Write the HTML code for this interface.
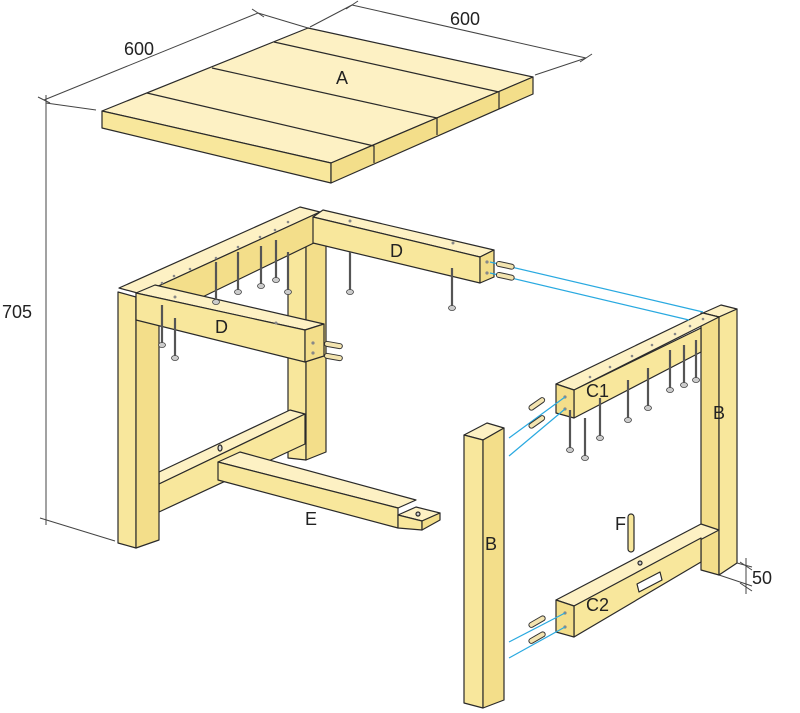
<!DOCTYPE html>
<html><head><meta charset="utf-8"><style>
html,body{margin:0;padding:0;background:#fff}
svg{display:block}
text{font-family:"Liberation Sans",sans-serif;fill:#222}
</style></head><body>
<svg width="800" height="713" viewBox="0 0 800 713" xmlns="http://www.w3.org/2000/svg">
<defs>
<g id="scr"><line x1="0" y1="0" x2="0" y2="38" stroke="#555" stroke-width="2.2"/><ellipse cx="0" cy="40" rx="3.5" ry="2.5" fill="#ccc" stroke="#444" stroke-width="0.8"/></g>
</defs>
<g stroke="#2a2a2a" stroke-width="1.2" stroke-linejoin="round">
<g stroke="#444" stroke-width="1" fill="none">
<line x1="44" y1="100" x2="258" y2="13"/><line x1="38" y1="97" x2="50" y2="103"/><line x1="252" y1="9" x2="264" y2="17"/>
<line x1="46" y1="103" x2="96" y2="110"/><line x1="258" y1="13" x2="308" y2="28"/>
<line x1="352" y1="5" x2="586" y2="58"/><line x1="346" y1="9" x2="358" y2="1"/><line x1="580" y1="62" x2="592" y2="54"/>
<line x1="310" y1="27" x2="352" y2="5"/><line x1="535" y1="75" x2="586" y2="58"/>
<line x1="46" y1="95" x2="46" y2="525"/><line x1="40" y1="518" x2="115" y2="541"/>
<line x1="737" y1="563" x2="752" y2="567"/><line x1="719" y1="575" x2="752" y2="586"/>
<line x1="746" y1="558" x2="746" y2="594"/><line x1="740" y1="562" x2="752" y2="570"/><line x1="740" y1="583" x2="752" y2="591"/>
</g>
<polygon points="102,111 308,28 533,77 331,163" fill="#fdf1c4"/>
<polygon points="102,111 331,163 331,183 102,128" fill="#f8e79c"/>
<polygon points="331,163 533,77 533,94 331,183" fill="#f3de8a"/>
<g fill="none"><polyline points="147,93 374,146 374,163"/><polyline points="212,68 437,118 437,135"/><polyline points="274,42 499,92 499,109"/></g>

<polygon points="288,215 306,220 306,460 288,458" fill="#f8e79c"/>
<polygon points="306,220 326,212 326,452 306,460" fill="#f3de8a"/>
<polygon points="159,472 290,410 305,414 159,484" fill="#fdf1c4"/>
<polygon points="159,484 305,414 305,444 159,512" fill="#f8e79c"/>
<ellipse cx="220" cy="448" rx="2" ry="3" fill="#ddd"/>
<!-- E -->
<polygon points="218,462 240,452 416,500 398,508" fill="#fdf1c4"/>
<polygon points="218,462 398,508 398,528 218,480" fill="#f8e79c"/>
<polygon points="398,515 416,507 440,513 422,521" fill="#fdf1c4"/>
<polygon points="398,515 422,521 422,530 398,528" fill="#f8e79c"/>
<polygon points="422,521 440,513 440,520 422,530" fill="#f3de8a"/>
<circle cx="418" cy="514" r="2" fill="#ccc"/>
<polygon points="119,288 300,207 320,212 141,294" fill="#fdf1c4"/>
<polygon points="141,294 320,212 320,240 155,320" fill="#f3de8a"/>
<polygon points="313,217 323,210 494,250 480,257" fill="#fdf1c4"/>
<polygon points="313,217 480,257 480,283 313,243" fill="#f8e79c"/>
<polygon points="480,257 494,250 494,277 480,283" fill="#f3de8a"/>
<polygon points="118,292 136,297 136,548 118,543" fill="#f8e79c"/>
<polygon points="136,297 159,287 159,540 136,548" fill="#f3de8a"/>
<polygon points="136,293 155,285 324,324 305,330" fill="#fdf1c4"/>
<polygon points="136,293 305,330 305,362 136,320" fill="#f8e79c"/>
<polygon points="305,330 324,324 324,356 305,362" fill="#f3de8a"/>

<polygon points="703,313 721,305 737,309 719,317" fill="#fdf1c4"/>
<polygon points="701,313 719,317 719,575 701,570" fill="#f3de8a"/>
<polygon points="719,317 737,309 737,563 719,575" fill="#f8e79c"/>
<polygon points="556,384 703,313 719,317 574,390" fill="#fdf1c4"/>
<polygon points="574,390 701,328 701,352 574,418" fill="#f8e79c"/>
<polygon points="556,384 574,390 574,418 556,413" fill="#f3de8a"/>
<polygon points="556,600 701,524 719,530 574,606" fill="#fdf1c4"/>
<polygon points="574,606 701,538 701,562 574,637" fill="#f8e79c"/>
<polygon points="556,600 574,606 574,637 556,632" fill="#f3de8a"/>
<polygon points="637,584 660,572 662,580 639,592" fill="#fff"/>
<circle cx="640" cy="563" r="2" fill="#ccc"/>
<rect x="628" y="514" width="6" height="38" rx="3" fill="#f8e79c"/>
<polygon points="464,435 487,423 504,428 483,440" fill="#fdf1c4"/>
<polygon points="464,435 483,440 483,708 464,703" fill="#f8e79c"/>
<polygon points="483,440 504,428 504,700 483,708" fill="#f3de8a"/>
</g>
<g fill="#888">
<circle cx="487" cy="262" r="1.6"/><circle cx="487" cy="273" r="1.6"/>
<circle cx="313" cy="343" r="1.6"/><circle cx="313" cy="353" r="1.6"/>
<circle cx="565" cy="397" r="1.6"/><circle cx="565" cy="409" r="1.6"/>
<circle cx="565" cy="613" r="1.6"/><circle cx="565" cy="627" r="1.6"/>
<circle cx="175" cy="297" r="1.5"/><circle cx="276" cy="323" r="1.5"/><circle cx="350" cy="221" r="1.5"/><circle cx="453" cy="243" r="1.5"/>
<circle cx="162" cy="283" r="1.3"/><circle cx="174" cy="276" r="1.3"/><circle cx="190" cy="269" r="1.3"/><circle cx="216" cy="258" r="1.3"/><circle cx="238" cy="247" r="1.3"/><circle cx="260" cy="237" r="1.3"/><circle cx="275" cy="230" r="1.3"/><circle cx="288" cy="222" r="1.3"/>
<circle cx="590" cy="377" r="1.3"/><circle cx="610" cy="367" r="1.3"/><circle cx="632" cy="356" r="1.3"/><circle cx="652" cy="345" r="1.3"/><circle cx="675" cy="334" r="1.3"/><circle cx="690" cy="326" r="1.3"/><circle cx="703" cy="319" r="1.3"/>
</g>
<g stroke="#29a9e0" stroke-width="1.2">
<line x1="490" y1="262" x2="703" y2="312"/><line x1="490" y1="273" x2="689" y2="320"/>
<line x1="509" y1="438" x2="565" y2="397"/><line x1="509" y1="456" x2="565" y2="409"/>
<line x1="509" y1="642" x2="565" y2="613"/><line x1="509" y1="658" x2="565" y2="627"/>
</g>
<g stroke="#333" stroke-width="1" fill="#f3e4b0">
<rect x="497" y="261" width="18" height="5" rx="2.5" transform="rotate(12 497 261)"/>
<rect x="497" y="272" width="18" height="5" rx="2.5" transform="rotate(12 497 272)"/>
<rect x="325" y="341" width="18" height="5" rx="2.5" transform="rotate(10 325 341)"/>
<rect x="325" y="353" width="18" height="5" rx="2.5" transform="rotate(10 325 353)"/>
<rect x="528" y="407" width="18" height="5" rx="2.5" transform="rotate(-35 528 407)"/>
<rect x="528" y="425" width="18" height="5" rx="2.5" transform="rotate(-35 528 425)"/>
<rect x="528" y="624" width="18" height="5" rx="2.5" transform="rotate(-30 528 624)"/>
<rect x="528" y="640" width="18" height="5" rx="2.5" transform="rotate(-30 528 640)"/>
</g>
<use href="#scr" x="350" y="252"/><use href="#scr" x="452" y="268"/>
<use href="#scr" x="216" y="262"/><use href="#scr" x="238" y="252"/><use href="#scr" x="261" y="246"/><use href="#scr" x="276" y="240"/><use href="#scr" x="288" y="252"/>
<use href="#scr" x="162" y="305"/><use href="#scr" x="175" y="318"/>
<use href="#scr" x="570" y="410"/><use href="#scr" x="585" y="418"/><use href="#scr" x="600" y="398"/><use href="#scr" x="628" y="380"/><use href="#scr" x="648" y="368"/><use href="#scr" x="670" y="350"/><use href="#scr" x="684" y="345"/><use href="#scr" x="696" y="340"/>
<g font-size="18">
<text x="336" y="84">A</text><text x="390" y="257">D</text><text x="215" y="333">D</text>
<text x="586" y="397">C1</text><text x="713" y="419">B</text><text x="305" y="525">E</text>
<text x="485" y="550">B</text><text x="615" y="530">F</text><text x="586" y="611">C2</text>
<text x="124" y="55">600</text><text x="450" y="25">600</text><text x="2" y="318">705</text><text x="752" y="584">50</text>
</g>
</svg>
</body></html>
